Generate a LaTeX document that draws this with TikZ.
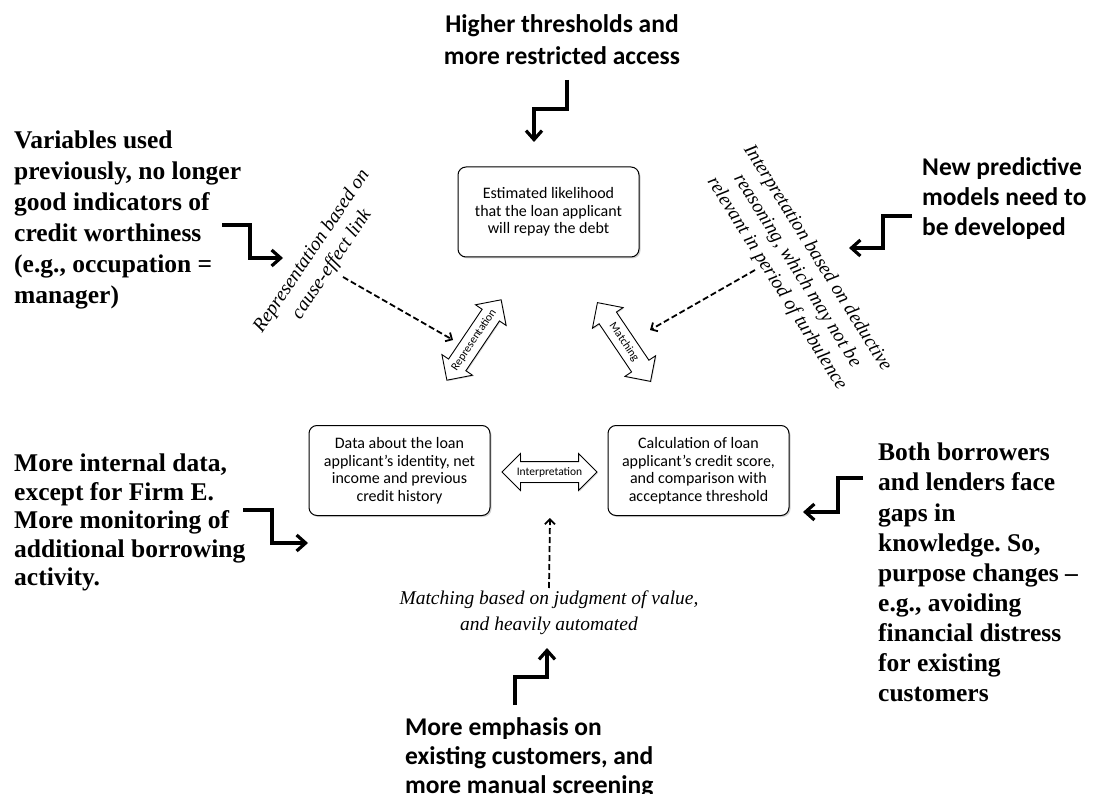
\documentclass[tikz,border=0pt]{standalone}
\usepackage{fontspec}
\setmainfont{Liberation Serif}
\newfontfamily\carlito{Carlito}
\usetikzlibrary{arrows.meta,shapes.arrows,shadows}
\frenchspacing
\begin{document}
\begin{tikzpicture}[x=1pt,y=-1pt,
  box/.style={draw, line width=1pt, rounded corners=8pt, fill=white,
    minimum width=181pt, minimum height=90pt, align=center, inner sep=2pt,
    font=\carlito\fontsize{16}{17.5}\selectfont,
    drop shadow={shadow xshift=1.5pt, shadow yshift=-1.5pt, opacity=.35}},
  darr/.style={double arrow, draw, fill=white, line width=0.9pt,
    double arrow head extend=8pt, minimum height=95pt, inner xsep=2pt, inner ysep=4.5pt,
    text height=8.5pt, text depth=2.5pt,
    font=\carlito\fontsize{11.5}{12}\selectfont,
    drop shadow={shadow xshift=1pt, shadow yshift=-1pt, opacity=.3}},
  bent/.style={line width=3.2pt, -{Straight Barb[length=9pt,width=16pt]}},
  dasharr/.style={dash pattern=on 6pt off 3pt, line width=1.8pt, -{Straight Barb[length=5pt,width=10pt]}},
  sbold/.style={inner sep=0pt, align=left},
  note/.style={inner sep=0pt, align=center},
]
\useasboundingbox (0,0) rectangle (1093,794);

% boxes
\node[box] (top) at (548.5,212) {Estimated likelihood\\that the loan applicant\\will repay the debt};
\node[box] (data) at (399.5,470.5) {Data about the loan\\applicant’s identity, net\\income and previous\\credit history};
\node[box] (calc) at (698.5,470.5) {Calculation of loan\\applicant’s credit score,\\and comparison with\\acceptance threshold};

% double arrows
\node[darr] (interp) at (549.5,472) {Interpretation};
\node[darr, rotate=56] (repr) at (474,340) {Representation};
\node[darr, rotate=-56] (match) at (624,342) {Matching};

% rotated notes
\node[note, rotate=56, font=\itshape\fontsize{19.5}{24}\selectfont] (rnote) at (322,258) {Representation based on\\cause-effect link};
\node[note, rotate=-58, font=\itshape\fontsize{19.5}{24}\selectfont] (inote) at (797,271) {Interpretation based on deductive\\reasoning, which may not be\\relevant in period of turbulence};
\node[note, anchor=north, font=\itshape\fontsize{19.5}{26}\selectfont] (mnote) at (549,591) {Matching based on judgment of value,\\and heavily automated};

% dashed arrows
\coordinate (lds) at (343,277);
\coordinate (ldt) at (453,340);
\coordinate (rds) at (755,270);
\coordinate (rdt) at (650,330);
\coordinate (vdt) at (550,518);
\draw[dasharr] (lds) -- (ldt);
\draw[dasharr] (rds) -- (rdt);
\draw[dasharr] ([yshift=3pt]mnote.north) -- (vdt);

% bold annotations
\node[sbold, anchor=north, align=center, font=\carlito\bfseries\fontsize{25.5}{32}\selectfont] (thr) at (562,14) {Higher thresholds and\\more restricted access};
\node[sbold, anchor=north west, font=\bfseries\fontsize{25.5}{31}\selectfont] (vars) at (14,131) {Variables used\\previously, no longer\\good indicators of\\credit worthiness\\(e.g., occupation =\\manager)};
\node[sbold, anchor=north west, font=\bfseries\fontsize{25.5}{28.5}\selectfont] (intd) at (14,454) {More internal data,\\except for Firm E.\\More monitoring of\\additional borrowing\\activity.};
\node[sbold, anchor=north west, font=\carlito\bfseries\fontsize{25.5}{30}\selectfont] (newp) at (922,157) {New predictive\\models need to\\be developed};
\node[sbold, anchor=north west, font=\bfseries\fontsize{25.5}{30.1}\selectfont] (both) at (878,443) {Both borrowers\\and lenders face\\gaps in\\knowledge. So,\\purpose changes –\\e.g., avoiding\\financial distress\\for existing\\customers};
\node[sbold, anchor=north west, font=\carlito\bfseries\fontsize{25.5}{29}\selectfont] (emph) at (405,717) {More emphasis on\\existing customers, and\\more manual screening};

% bent arrows
\coordinate (t1) at (567,80);  \coordinate (t2) at (534,142);
\draw[bent] (t1) -- (567,109) -- (534,109) -- (t2);
\coordinate (l1) at (222,225); \coordinate (l2) at (283,258);
\draw[bent] (l1) -- (250,225) -- (250,258) -- (l2);
\coordinate (m1) at (243,510); \coordinate (m2) at (308,543);
\draw[bent] (m1) -- (272,510) -- (272,543) -- (m2);
\coordinate (r1) at (912,216); \coordinate (r2) at (849,248);
\draw[bent] (r1) -- (883,216) -- (883,248) -- (r2);
\coordinate (s1) at (863,478); \coordinate (s2) at (803,512);
\draw[bent] (s1) -- (838,478) -- (838,512) -- (s2);
\coordinate (b1) at (515,705); \coordinate (b2) at (547,648);
\draw[bent] (b1) -- (515,677) -- (547,677) -- (b2);
\end{tikzpicture}
\end{document}
